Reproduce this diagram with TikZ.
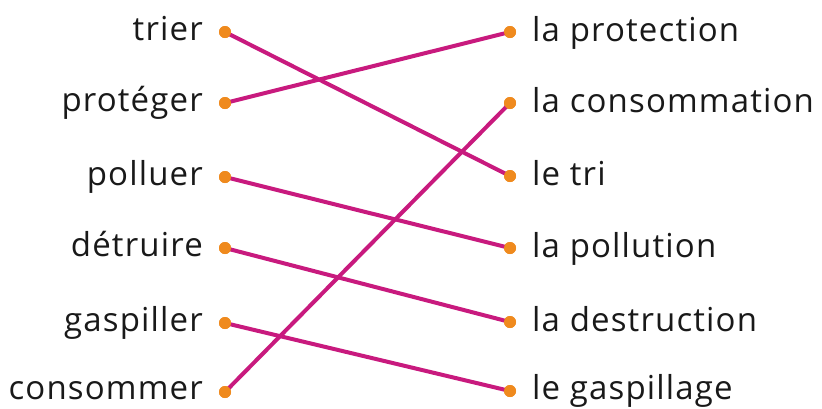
\documentclass[tikz,border=0pt]{standalone}
\usepackage{fontspec}
\setmainfont[Ligatures=NoCommon,LetterSpace=3.5]{Open Sans}
\begin{document}
\begin{tikzpicture}[x=1pt,y=-1pt,
  dot/.style={circle,fill=dotorange,inner sep=0pt,minimum size=12pt},
  word/.style={inner sep=0pt,text depth=0pt,font=\fontsize{33}{33}\selectfont,text=black!90},
  link/.style={draw=linkmag,line width=4pt}]
\definecolor{dotorange}{HTML}{EF8A1E}
\definecolor{linkmag}{HTML}{C81A7E}
\useasboundingbox (0,0) rectangle (822,408);
% left dots
\node[dot] (l1) at (225,32) {};
\node[dot] (l2) at (225,103) {};
\node[dot] (l3) at (225,177) {};
\node[dot] (l4) at (225,248) {};
\node[dot] (l5) at (225,323) {};
\node[dot] (l6) at (225,392) {};
% right dots
\node[dot] (r1) at (510,32) {};
\node[dot] (r2) at (510,103) {};
\node[dot] (r3) at (510,176) {};
\node[dot] (r4) at (510,248) {};
\node[dot] (r5) at (510,322) {};
\node[dot] (r6) at (510,391) {};
% left words
\node[word,anchor=base east] (t1) at (203,40) {trier};
\node[word,anchor=base east] (t2) at (203,111) {protéger};
\node[word,anchor=base east] (t3) at (203,185) {polluer};
\node[word,anchor=base east] (t4) at (203,256) {détruire};
\node[word,anchor=base east] (t5) at (203,331) {gaspiller};
\node[word,anchor=base east] (t6) at (203,399) {consommer};
% right words
\node[word,anchor=base west] (s1) at (532,41) {la protection};
\node[word,anchor=base west] (s2) at (532,112) {la consommation};
\node[word,anchor=base west] (s3) at (532,185) {le tri};
\node[word,anchor=base west] (s4) at (532,257) {la pollution};
\node[word,anchor=base west] (s5) at (532,331) {la destruction};
\node[word,anchor=base west] (s6) at (532,399) {le gaspillage};
% links
\draw[link] (l1.center) -- (r3.center);
\draw[link] (l2.center) -- (r1.center);
\draw[link] (l3.center) -- (r4.center);
\draw[link] (l4.center) -- (r5.center);
\draw[link] (l5.center) -- (r6.center);
\draw[link] (l6.center) -- (r2.center);
% dots on top of the links
\foreach \n in {l1,l2,l3,l4,l5,l6,r1,r2,r3,r4,r5,r6}{\fill[dotorange] (\n.center) circle (6pt);}
\end{tikzpicture}
\end{document}
